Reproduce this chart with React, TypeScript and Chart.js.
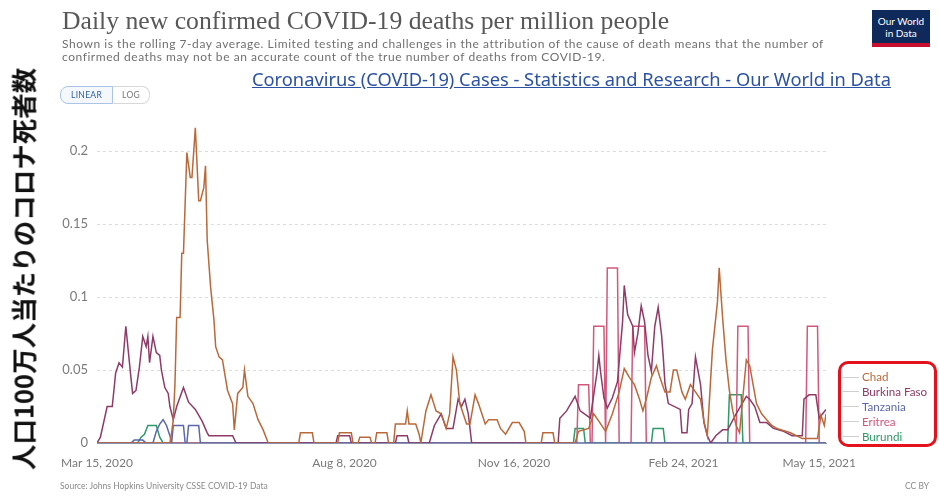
import React, { useEffect, useRef } from "react";
import { Chart, registerables } from "chart.js";

Chart.register(...registerables);

// x = days since Mar 15, 2020; y = daily deaths per million (7-day avg)
const tickDays = [0, 146, 246, 346, 426];
const tickLabels = ["Mar 15, 2020", "Aug 8, 2020", "Nov 16, 2020", "Feb 24, 2021", "May 15, 2021"];
const yTicks = [0, 0.05, 0.1, 0.15, 0.2];
const seriesNames = ["Chad", "Burkina Faso", "Tanzania", "Eritrea", "Burundi"];
const seriesColors = ["#b9693a", "#8e3b68", "#5b68ad", "#d2587c", "#2e9a68"];

const chad: [number, number][] = [
  [0, 0], [43, 0], [44, 0.007], [45, 0.016], [46, 0.041], [47, 0.086], [49, 0.086], [50, 0.13], [51, 0.13],
  [53, 0.199], [55, 0.182], [56, 0.182], [58, 0.216], [60, 0.166], [61, 0.166], [63, 0.175], [64, 0.19],
  [65, 0.139], [67, 0.107], [69, 0.084], [70, 0.066], [72, 0.059], [74, 0.057], [76, 0.043], [77, 0.036],
  [80, 0.027], [81, 0.009], [83, 0.034], [86, 0.038], [87, 0.05], [89, 0.032], [92, 0.027], [95, 0.016],
  [98, 0.009], [101, 0], [119, 0], [120, 0.007], [127, 0.007], [128, 0], [142, 0], [143, 0.007], [150, 0.007],
  [151, 0], [154, 0], [155, 0.004], [161, 0.004], [162, 0], [164, 0], [165, 0.007], [171, 0.007], [172, 0],
  [175, 0], [176, 0.013], [182, 0.013], [183, 0.022], [184, 0.013], [188, 0.013], [190, 0.006], [191, 0],
  [194, 0.022], [197, 0.033], [200, 0.022], [203, 0.02], [206, 0.01], [208, 0.02], [210, 0.059], [212, 0.05],
  [214, 0.027], [216, 0.02], [218, 0.013], [220, 0.013], [223, 0.033], [225, 0.027], [227, 0.02], [229, 0.013],
  [231, 0.016], [236, 0.016], [238, 0.01], [241, 0.006], [245, 0.014], [249, 0.014], [252, 0.008], [253, 0],
  [262, 0], [263, 0.007], [269, 0.007], [270, 0], [282, 0], [284, 0.008], [290, 0.01], [293, 0.02], [296, 0.015],
  [300, 0.008], [304, 0.02], [308, 0.035], [311, 0.051], [314, 0.045], [317, 0.04], [320, 0.03], [322, 0.022],
  [324, 0.03], [327, 0.045], [330, 0.053], [332, 0.045], [335, 0.035], [338, 0.035], [340, 0.05], [342, 0.05],
  [345, 0.035], [347, 0.03], [350, 0.04], [353, 0.035], [356, 0.03], [358, 0.015], [360, 0.005], [363, 0.064],
  [366, 0.097], [367, 0.12], [369, 0.086], [371, 0.057], [373, 0.036], [375, 0.022], [377, 0.012], [379, 0.007],
  [383, 0.057], [385, 0.053], [387, 0.04], [389, 0.027], [392, 0.02], [395, 0.016], [398, 0.012], [401, 0.01],
  [409, 0.007], [416, 0.003], [425, 0.003], [427, 0.019], [429, 0.012], [430, 0.02],
];

const burkinaFaso: [number, number][] = [
  [0, 0], [2, 0.004], [6, 0.025], [9, 0.025], [11, 0.048], [13, 0.055], [15, 0.052], [17, 0.08], [20, 0.045],
  [21, 0.034], [23, 0.036], [25, 0.052], [27, 0.073], [29, 0.066], [30, 0.073], [31, 0.055], [33, 0.073],
  [35, 0.062], [37, 0.06], [38, 0.05], [40, 0.038], [42, 0.034], [43, 0.025], [45, 0.016], [47, 0.025],
  [51, 0.038], [54, 0.028], [58, 0.023], [62, 0.015], [65, 0.007], [66, 0.005], [80, 0.005], [82, 0],
  [141, 0], [142, 0.005], [149, 0.005], [150, 0], [176, 0], [177, 0.005], [183, 0.005], [184, 0], [196, 0],
  [199, 0.012], [203, 0.02], [206, 0.01], [210, 0.01], [213, 0.03], [215, 0.025], [217, 0.03], [219, 0.02],
  [221, 0], [272, 0], [273, 0.017], [277, 0.022], [280, 0.028], [282, 0.032], [285, 0.022], [291, 0.017],
  [293, 0.033], [295, 0.049], [296, 0.06], [297, 0.049], [299, 0.031], [301, 0.024], [304, 0.031], [307, 0.042],
  [310, 0.083], [311, 0.108], [313, 0.088], [316, 0.08], [317, 0.062], [319, 0.075], [321, 0.094], [323, 0.083],
  [325, 0.06], [327, 0.049], [329, 0.08], [331, 0.093], [333, 0.074], [334, 0.059], [335, 0.041], [337, 0.027],
  [344, 0.023], [345, 0.007], [348, 0.007], [349, 0.023], [351, 0.027], [353, 0.059], [356, 0.04], [358, 0.014],
  [360, 0.005], [362, 0], [365, 0.005], [369, 0.009], [372, 0.009], [377, 0.02], [383, 0.032], [385, 0.03],
  [388, 0.025], [391, 0.014], [395, 0.014], [399, 0.01], [405, 0.008], [410, 0.005], [416, 0.005], [417, 0.03],
  [420, 0.033], [424, 0.033], [426, 0.017], [428, 0.02], [430, 0.023],
];

const tanzania: [number, number][] = [
  [0, 0], [20, 0], [22, 0.002], [27, 0.002], [29, 0], [33, 0], [35, 0.008], [37, 0.013], [39, 0.016],
  [41, 0.012], [43, 0.005], [44, 0], [45, 0.012], [51, 0.012], [52, 0], [53, 0], [54, 0.012], [60, 0.012],
  [61, 0], [430, 0],
];

const eritrea: [number, number][] = [
  [0, 0], [283, 0], [284, 0.04], [290, 0.04], [291, 0], [292, 0], [293, 0.08], [299, 0.08], [300, 0],
  [301, 0.12], [307, 0.12], [308, 0], [315, 0], [316, 0.08], [323, 0.08], [324, 0], [377, 0], [378, 0.08],
  [384, 0.08], [385, 0], [418, 0], [419, 0.08], [425, 0.08], [426, 0], [430, 0],
];

const burundi: [number, number][] = [
  [0, 0], [24, 0], [26, 0.004], [28, 0.006], [30, 0.012], [35, 0.012], [37, 0.004], [39, 0], [281, 0],
  [282, 0.01], [287, 0.01], [288, 0], [327, 0], [328, 0.01], [334, 0.01], [335, 0], [372, 0], [373, 0.033],
  [380, 0.033], [381, 0], [430, 0],
];

const seriesData = [chad, burkinaFaso, tanzania, eritrea, burundi];

export default function App() {
  const canvasRef = useRef<HTMLCanvasElement | null>(null);

  useEffect(() => {
    if (!canvasRef.current) return;
    const chart = new Chart(canvasRef.current, {
      type: "line",
      data: {
        datasets: seriesNames.map((name, i) => ({
          label: name,
          data: seriesData[i].map(([x, y]) => ({ x, y })),
          borderColor: seriesColors[i],
          borderWidth: 1.5,
          pointRadius: 0,
          tension: 0,
          fill: false,
        })),
      },
      options: {
        animation: false,
        responsive: false,
        maintainAspectRatio: false,
        layout: { padding: { left: 55, right: 113, top: 122, bottom: 24 } },
        plugins: { legend: { display: false }, tooltip: { enabled: false } },
        scales: {
          x: {
            type: "linear",
            min: 0,
            max: 430,
            afterBuildTicks: (axis: any) => {
              axis.ticks = tickDays.map((v) => ({ value: v }));
            },
            afterFit: (scale: any) => {
              scale.height = 30;
            },
            ticks: {
              autoSkip: false,
              maxRotation: 0,
              padding: 13,
              color: "#7a7a7a",
              font: { family: "Lato", size: 12 },
              callback: (value: any) => {
                const idx = tickDays.indexOf(Number(value));
                return idx >= 0 ? tickLabels[idx] : "";
              },
            },
            grid: { display: false, drawTicks: false },
            border: { display: true, color: "#8a93b0", width: 1 },
          },
          y: {
            min: 0,
            max: 0.22,
            afterBuildTicks: (axis: any) => {
              axis.ticks = yTicks.map((v) => ({ value: v }));
            },
            afterFit: (scale: any) => {
              scale.width = 42;
            },
            ticks: {
              padding: 9,
              color: "#7a7a7a",
              font: { family: "Lato", size: 13 },
              callback: (value: any) => String(Number(value)),
            },
            grid: { color: "#dcdcdc", drawTicks: false, lineWidth: 1 },
            border: { display: false, dash: [3, 3] },
          },
        },
      },
    });
    return () => chart.destroy();
  }, []);

  const legendTop = 370;
  const legendStep = 14.9;

  return (
    <div style={{ position: "fixed", left: 0, top: 0, width: 939, height: 497, background: "#fff", overflow: "hidden" }}>
      <canvas ref={canvasRef} width={939} height={497} style={{ position: "absolute", left: 0, top: 0, width: 939, height: 497 }} />

      <div style={{ position: "absolute", left: 62, top: 6, fontFamily: "'Liberation Serif', serif", fontSize: 25.7, color: "#585858", whiteSpace: "nowrap" }}>
        Daily new confirmed COVID-19 deaths per million people
      </div>
      <div style={{ position: "absolute", left: 62, top: 37, width: 800, fontFamily: "Lato, sans-serif", fontSize: 12, letterSpacing: 0.55, lineHeight: "13px", color: "#707070", whiteSpace: "nowrap" }}>
        Shown is the rolling 7-day average. Limited testing and challenges in the attribution of the cause of death means that the number of
        <br />
        confirmed deaths may not be an accurate count of the true number of deaths from COVID-19.
      </div>
      <div style={{ position: "absolute", left: 252, top: 66, fontFamily: "'Noto Sans', sans-serif", fontSize: 18.3, color: "#2c52a4", textDecoration: "underline", whiteSpace: "nowrap" }}>
        Coronavirus (COVID-19) Cases - Statistics and Research - Our World in Data
      </div>

      <div style={{ position: "absolute", left: 872, top: 10, width: 58, height: 37, background: "#0f2a5a", borderBottom: "4px solid #c8102e", color: "#fff", fontFamily: "Lato, sans-serif", fontSize: 10, lineHeight: "12px", textAlign: "center", paddingTop: 5, boxSizing: "border-box" }}>
        Our World
        <br />
        in Data
      </div>

      <div style={{ position: "absolute", left: 60, top: 86, display: "flex", fontFamily: "Lato, sans-serif", fontSize: 8.5, letterSpacing: 0.3 }}>
        <div style={{ border: "1.5px solid #a9c4e6", borderRadius: "8px 0 0 8px", padding: "3px 10px", color: "#2c5ea8", background: "#f4f8fd" }}>LINEAR</div>
        <div style={{ border: "1px solid #d8d8d8", borderLeft: "none", borderRadius: "0 8px 8px 0", padding: "3px 9px", color: "#777" }}>LOG</div>
      </div>

      <div
        style={{
          position: "absolute",
          left: 22,
          top: 269,
          transform: "translate(-50%, -50%) rotate(-90deg)",
          fontFamily: "'Noto Sans CJK JP', sans-serif",
          fontWeight: 700,
          fontSize: 25.5,
          color: "#111",
          whiteSpace: "nowrap",
        }}
      >
        人口100万人当たりのコロナ死者数
      </div>

      <div style={{ position: "absolute", left: 838, top: 361, width: 99, height: 86, border: "3px solid #e3121d", borderRadius: 10, boxSizing: "border-box" }} />
      {seriesNames.map((name, i) => (
        <div key={name} style={{ position: "absolute", left: 843, top: legendTop + i * legendStep, display: "flex", alignItems: "center", fontFamily: "Lato, sans-serif", fontSize: 11.6, color: seriesColors[i], whiteSpace: "nowrap", lineHeight: "14px" }}>
          <span style={{ display: "inline-block", width: 16, height: 1, background: "#cfcfcf", marginRight: 3 }} />
          {name}
        </div>
      ))}

      <div style={{ position: "absolute", left: 60, top: 481, fontFamily: "Lato, sans-serif", fontSize: 8.5, color: "#8a8a8a", whiteSpace: "nowrap" }}>
        Source: Johns Hopkins University CSSE COVID-19 Data
      </div>
      <div style={{ position: "absolute", left: 905, top: 481, fontFamily: "Lato, sans-serif", fontSize: 8.5, color: "#8a8a8a" }}>CC BY</div>
    </div>
  );
}
